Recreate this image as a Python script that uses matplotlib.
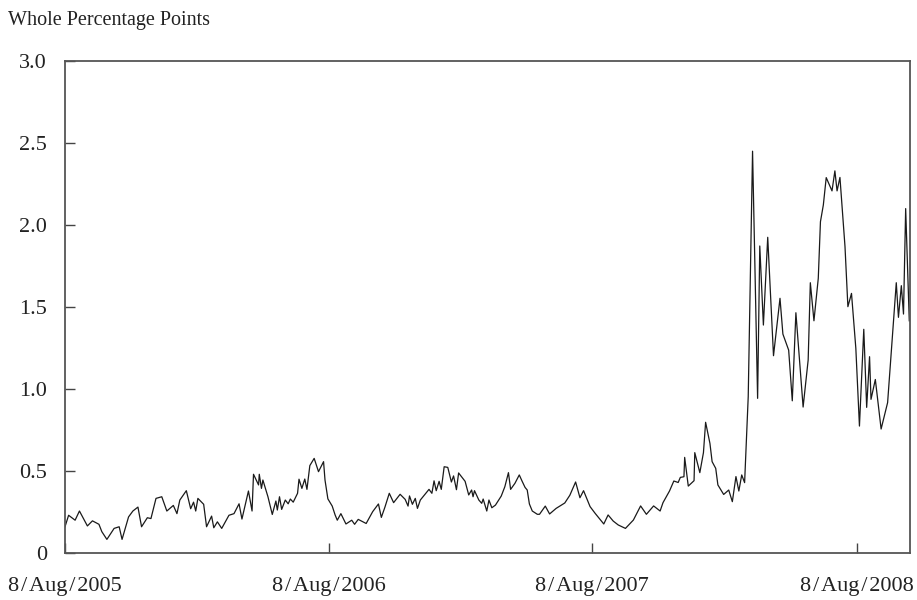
import matplotlib
matplotlib.use("Agg")
import matplotlib.pyplot as plt
import numpy as np
import pandas as pd

# ---- data ----
start_date = "2005-08-08"
day_offset = [
    0, 5, 14, 20, 31, 38, 47, 51, 58, 68, 75, 79, 88, 94, 101, 106, 114, 119,
    126, 134, 141, 150, 155, 159, 168, 174, 178, 181, 184, 192, 196, 203, 206,
    211, 217, 227, 234, 241, 245, 254, 259, 261, 268, 269, 272, 274, 281, 287,
    292, 294, 297, 300, 305, 309, 312, 316, 322, 324, 328, 332, 335, 339, 345,
    351, 358, 360, 364, 370, 374, 377, 382, 389, 397, 401, 406, 417, 426, 434,
    438, 443, 449, 455, 464, 471, 475, 477, 481, 485, 488, 492, 504, 508, 511,
    514, 518, 521, 525, 530, 535, 538, 542, 545, 554, 559, 563, 565, 567, 573,
    577, 579, 584, 587, 591, 596, 604, 609, 614, 617, 623, 629, 633, 637, 640,
    643, 647, 654, 657, 665, 671, 680, 692, 699, 707, 713, 718, 727, 734, 746,
    752, 759, 766, 776, 787, 797, 805, 815, 824, 828, 837, 843, 849, 852, 857,
    858, 863, 871, 872, 879, 884, 887, 893, 896, 901, 904, 912, 919, 924, 929,
    933, 937, 941, 946, 952, 959, 962, 967, 973, 981, 990, 994, 1002, 1007,
    1012, 1022, 1029, 1032, 1037, 1043, 1046, 1050, 1054, 1062, 1066, 1069,
    1073, 1080, 1084, 1089, 1095, 1100, 1106, 1110, 1114, 1116, 1122, 1130,
    1139, 1151, 1154, 1158, 1161, 1164, 1169,
]
spread = [
    0.16, 0.23, 0.20, 0.256, 0.165, 0.196, 0.175, 0.13, 0.083, 0.15, 0.16, 0.083,
    0.22, 0.256, 0.28, 0.16, 0.215, 0.21, 0.333, 0.343, 0.256, 0.29, 0.24, 0.323,
    0.38, 0.27, 0.31, 0.256, 0.333, 0.297, 0.16, 0.225, 0.154, 0.19, 0.15, 0.23,
    0.24, 0.30, 0.207, 0.378, 0.256, 0.48, 0.415, 0.48, 0.394, 0.445, 0.343,
    0.235, 0.317, 0.262, 0.343, 0.266, 0.323, 0.30, 0.329, 0.31, 0.364, 0.45,
    0.394, 0.451, 0.388, 0.533, 0.577, 0.496, 0.557, 0.445, 0.33, 0.286, 0.232,
    0.20, 0.24, 0.177, 0.20, 0.175, 0.205, 0.18, 0.252, 0.299, 0.217, 0.28,
    0.364, 0.307, 0.358, 0.327, 0.286, 0.348, 0.297, 0.333, 0.272, 0.323, 0.388,
    0.364, 0.44, 0.38, 0.437, 0.388, 0.526, 0.522, 0.433, 0.47, 0.386, 0.488,
    0.437, 0.354, 0.384, 0.343, 0.38, 0.323, 0.303, 0.329, 0.256, 0.323, 0.276,
    0.292, 0.347, 0.404, 0.49, 0.388, 0.425, 0.476, 0.437, 0.40, 0.384, 0.299,
    0.256, 0.236, 0.236, 0.286, 0.238, 0.272, 0.305, 0.352, 0.433, 0.337, 0.38,
    0.283, 0.242, 0.177, 0.232, 0.195, 0.171, 0.15, 0.201, 0.287, 0.236, 0.287,
    0.256, 0.307, 0.378, 0.439, 0.43, 0.461, 0.465, 0.583, 0.408, 0.441, 0.612,
    0.49, 0.612, 0.797, 0.668, 0.557, 0.516, 0.415, 0.357, 0.384, 0.313, 0.466,
    0.378, 0.476, 0.429, 0.953, 2.45, 0.943, 1.872, 1.39, 1.925, 1.203, 1.553,
    1.335, 1.237, 0.928, 1.465, 0.89, 1.177, 1.648, 1.416, 1.675, 2.02, 2.122,
    2.289, 2.208, 2.33, 2.208, 2.29, 1.868, 1.502, 1.583, 1.248, 0.774, 1.364,
    0.888, 1.197, 0.937, 1.058, 0.756, 0.917, 1.648, 1.437, 1.63, 1.457, 2.10,
    1.416,
]
x_tick_dates = ["2005-08-08", "2006-08-08", "2007-08-08", "2008-08-08"]
x_tick_labels = ["8\u200a/\u200aAug\u200a/\u200a2005", "8\u200a/\u200aAug\u200a/\u200a2006",
                 "8\u200a/\u200aAug\u200a/\u200a2007", "8\u200a/\u200aAug\u200a/\u200a2008"]
y_ticks = [0, 0.5, 1.0, 1.5, 2.0, 2.5, 3.0]
y_tick_labels = ["0", "0.5", "1.0", "1.5", "2.0", "2.5", "3.0"]
y_title = "Whole Percentage Points"
x_end_offset = 1170

dates = pd.Timestamp(start_date) + pd.to_timedelta(day_offset, unit="D")

plt.rcParams["font.family"] = ["Liberation Serif", "DejaVu Serif"]

fig = plt.figure(figsize=(9.17, 6.0), dpi=100)
ax = fig.add_axes([65 / 917, 1 - 553 / 600, (910 - 65) / 917, (553 - 61) / 600])

ax.plot(dates, spread, color="#1a1a1a", linewidth=0.9)

ax.set_xlim(pd.Timestamp(start_date), pd.Timestamp(start_date) + pd.Timedelta(days=x_end_offset))
ax.set_ylim(0, 3.0)

ax.set_xticks([pd.Timestamp(d) for d in x_tick_dates])
ax.set_xticklabels(x_tick_labels)
ax.set_yticks(y_ticks)
ax.set_yticklabels(y_tick_labels)

ax.tick_params(axis="both", direction="in", length=7, width=1.0, color="#444444",
               labelsize=16, labelcolor="#222222")
ax.tick_params(axis="y", pad=13)
ax.tick_params(axis="x", pad=17)

for s in ax.spines.values():
    s.set_color("#555555")
    s.set_linewidth(1.3)

fig.text(8 / 917, 1 - 20 / 600, y_title, fontsize=14.5, color="#222222",
         ha="left", va="center")

fig.savefig("out.png", dpi=100)
